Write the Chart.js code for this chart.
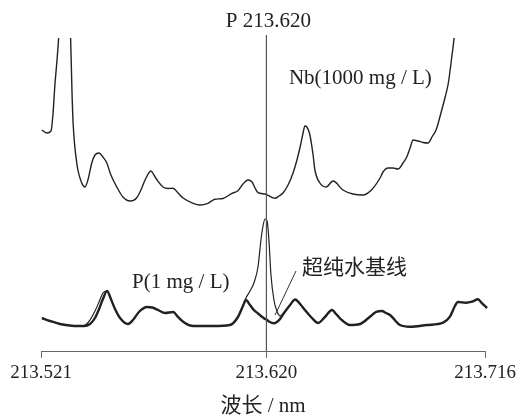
<!DOCTYPE html>
<html>
<head>
<meta charset="utf-8">
<script src="https://cdn.jsdelivr.net/npm/chart.js@4"></script>
<style>
  html, body { margin: 0; padding: 0; background: #fff; }
  #wrap { width: 525px; height: 417px; }
</style>
</head>
<body>
<div id="wrap"><canvas id="chartSpectrum" width="525" height="417"></canvas></div>
<script>
// wavelength axis (nm) and tick labels
const tickValues = [213.521, 213.620, 213.716];
const lineWavelength = 213.620;

// P (1 mg/L) and ultrapure-water baseline share one wavelength grid
const lambdaLow = [
  213.5214, 213.5250, 213.5293, 213.5346, 213.5399, 213.5425, 213.5447, 213.5465, 213.5482, 213.5500,
  213.5517, 213.5535, 213.5557, 213.5592, 213.5614, 213.5640, 213.5676, 213.5698, 213.5724, 213.5755,
  213.5790, 213.5812, 213.5842, 213.5878, 213.5965, 213.6040, 213.6075, 213.6097, 213.6110, 213.6128,
  213.6145, 213.6163, 213.6176, 213.6185, 213.6194, 213.6203, 213.6211, 213.6220, 213.6233, 213.6246,
  213.6260, 213.6277, 213.6304, 213.6326, 213.6348, 213.6369, 213.6400, 213.6427, 213.6457, 213.6488,
  213.6506, 213.6523, 213.6567, 213.6611, 213.6655, 213.6681, 213.6708, 213.6725, 213.6743, 213.6787,
  213.6831, 213.6905, 213.6976, 213.7006, 213.7028, 213.7041, 213.7077, 213.7103, 213.7129, 213.7147,
  213.7169
];
const baseline = [
  33, 30, 27, 25.3, 25, 27, 33, 42, 52, 60,
  52, 42, 33, 27, 31, 39, 44, 43.5, 41, 38,
  39, 34, 28, 25, 25, 26, 34, 45, 51, 46,
  41, 37.5, 35, 33.5, 32, 31, 29.5, 28.5, 27.7, 29,
  32, 38, 46, 51.5, 47, 41, 33, 28, 34, 41,
  37, 32.7, 26, 27, 34.3, 39, 40, 38, 36, 26,
  24.3, 26, 28.3, 34.3, 45, 49, 48.3, 49.3, 51.7, 47.7,
  43
];
const pSignal = [
  33, 30, 27, 25.3, 25.5, 31, 40, 49, 58, 60,
  52, 42, 33, 27, 31, 39, 44, 43.5, 41, 38,
  39, 34, 28, 25, 25, 26, 34, 45, 53, 60,
  68, 84, 111, 125, 132, 130, 111, 76, 51, 40,
  35, 38, 46, 51.5, 47, 41, 33, 28, 34, 41,
  37, 32.7, 26, 27, 34.3, 39, 40, 38, 36, 26,
  24.3, 26, 28.3, 34.3, 45, 49, 48.3, 49.3, 51.7, 47.7,
  43
];

// Nb (1000 mg/L)
const lambdaNb = [
  213.5214, 213.5236, 213.5254, 213.5263, 213.5271, 213.5280, 213.5289, 213.5315, 213.5340, 213.5346,
  213.5351, 213.5367, 213.5389, 213.5403, 213.5416, 213.5433, 213.5447, 213.5465, 213.5482, 213.5499,
  213.5517, 213.5543, 213.5570, 213.5601, 213.5630, 213.5649, 213.5667, 213.5693, 213.5706, 213.5720,
  213.5746, 213.5768, 213.5790, 213.5812, 213.5834, 213.5878, 213.5908, 213.5943, 213.5974, 213.6009,
  213.6049, 213.6075, 213.6097, 213.6119, 213.6137, 213.6150, 213.6163, 213.6194, 213.6225, 213.6238,
  213.6255, 213.6273, 213.6295, 213.6317, 213.6334, 213.6348, 213.6361, 213.6369, 213.6378, 213.6391,
  213.6405, 213.6413, 213.6435, 213.6462, 213.6493, 213.6536, 213.6580, 213.6624, 213.6661, 213.6699,
  213.6712, 213.6734, 213.6756, 213.6778, 213.6800, 213.6817, 213.6831, 213.6844, 213.6866, 213.6888,
  213.6910, 213.6927, 213.6945, 213.6970, 213.6984, 213.6999, 213.7014, 213.7024, 213.7033
];
const nbSignal = [
  221, 218, 220, 238, 266, 290, 318, 420, 313, 260,
  228, 188, 168, 164, 171, 188, 196, 198, 194, 188,
  176, 164, 154, 150, 153, 161, 171, 180, 176, 171,
  164, 162.5, 162.7, 158, 153, 147.7, 146, 147.7, 151.7, 152.5,
  157.7, 160.3, 167, 171, 169, 163, 158.3, 157, 153.5, 152.7,
  155, 158, 166, 178, 191, 204, 218, 225, 224, 216,
  196, 181, 168, 164, 170, 161, 157, 156, 161, 173,
  179, 183, 183, 182, 188, 194.3, 203, 211, 210, 208.5,
  208, 214, 221, 241, 253, 268, 294, 313, 345
];

const textFont = "'Liberation Serif', 'Noto Sans CJK SC', serif";
const inkColor = '#222';

// text labels placed in data coordinates
const curveLabels = [
  { text: 'Nb(1000 mg / L)', x: 213.6299, y: 273 },
  { text: 'P(1 mg / L)', x: 213.5610, y: 69 },
  { text: '超纯水基线', x: 213.6356, y: 83 }
];
const leader = { from: { x: 213.6330, y: 80 }, to: { x: 213.6238, y: 36 } };

const toPoints = (xs, ys) => xs.map((x, i) => ({ x: x, y: ys[i] }));

const annotations = {
  id: 'annotations',
  afterDatasetsDraw(chart) {
    const { ctx, chartArea, scales: { x, y } } = chart;
    ctx.save();
    // vertical marker at P 213.620
    const px = x.getPixelForValue(lineWavelength);
    ctx.strokeStyle = '#555';
    ctx.lineWidth = 1.2;
    ctx.beginPath();
    ctx.moveTo(px, chartArea.top - 3);
    ctx.lineTo(px, chartArea.bottom);
    ctx.stroke();

    ctx.fillStyle = inkColor;
    ctx.font = '21px ' + textFont;
    ctx.textBaseline = 'middle';
    ctx.textAlign = 'center';
    ctx.fillText('P 213.620', px + 2, 21);

    ctx.textAlign = 'left';
    curveLabels.forEach(l => {
      ctx.fillText(l.text, x.getPixelForValue(l.x), y.getPixelForValue(l.y));
    });

    ctx.strokeStyle = '#333';
    ctx.lineWidth = 1;
    ctx.beginPath();
    ctx.moveTo(x.getPixelForValue(leader.from.x), y.getPixelForValue(leader.from.y));
    ctx.lineTo(x.getPixelForValue(leader.to.x), y.getPixelForValue(leader.to.y));
    ctx.stroke();
    ctx.restore();
  }
};

const ctxSpectrum = document.getElementById('chartSpectrum').getContext('2d');
new Chart(ctxSpectrum, {
  type: 'line',
  data: {
    datasets: [
      {
        label: 'Nb(1000 mg / L)',
        data: toPoints(lambdaNb, nbSignal),
        borderColor: inkColor,
        borderWidth: 1.4,
        pointRadius: 0,
        cubicInterpolationMode: 'monotone',
        clip: { left: 4, right: 4, top: 0, bottom: 4 }
      },
      {
        label: 'P(1 mg / L)',
        data: toPoints(lambdaLow, pSignal),
        borderColor: inkColor,
        borderWidth: 1.2,
        pointRadius: 0,
        cubicInterpolationMode: 'monotone',
        clip: { left: 4, right: 4, top: 0, bottom: 4 }
      },
      {
        label: '超纯水基线',
        data: toPoints(lambdaLow, baseline),
        borderColor: inkColor,
        borderWidth: 2.4,
        pointRadius: 0,
        cubicInterpolationMode: 'monotone',
        clip: { left: 4, right: 4, top: 0, bottom: 4 }
      }
    ]
  },
  options: {
    responsive: false,
    animation: false,
    devicePixelRatio: 1,
    layout: { padding: { left: 41, right: 40, top: 38, bottom: 0 } },
    plugins: {
      legend: { display: false },
      tooltip: { enabled: false }
    },
    scales: {
      x: {
        type: 'linear',
        min: 213.521,
        max: 213.716,
        afterBuildTicks: s => { s.ticks = tickValues.map(v => ({ value: v })); },
        afterFit: s => { s.height = 66; },
        ticks: {
          callback: v => v.toFixed(3),
          font: { family: textFont, size: 19 },
          color: inkColor,
          padding: 4,
          maxRotation: 0,
          autoSkip: false
        },
        grid: { drawOnChartArea: false, tickLength: 7, color: '#666' },
        border: { color: '#666' },
        title: {
          display: true,
          text: '波长 / nm',
          font: { family: textFont, size: 21, lineHeight: 1 },
          color: inkColor,
          padding: 0
        }
      },
      y: {
        display: false,
        min: 0,
        max: 313
      }
    }
  },
  plugins: [annotations]
});
</script>
</body>
</html>
